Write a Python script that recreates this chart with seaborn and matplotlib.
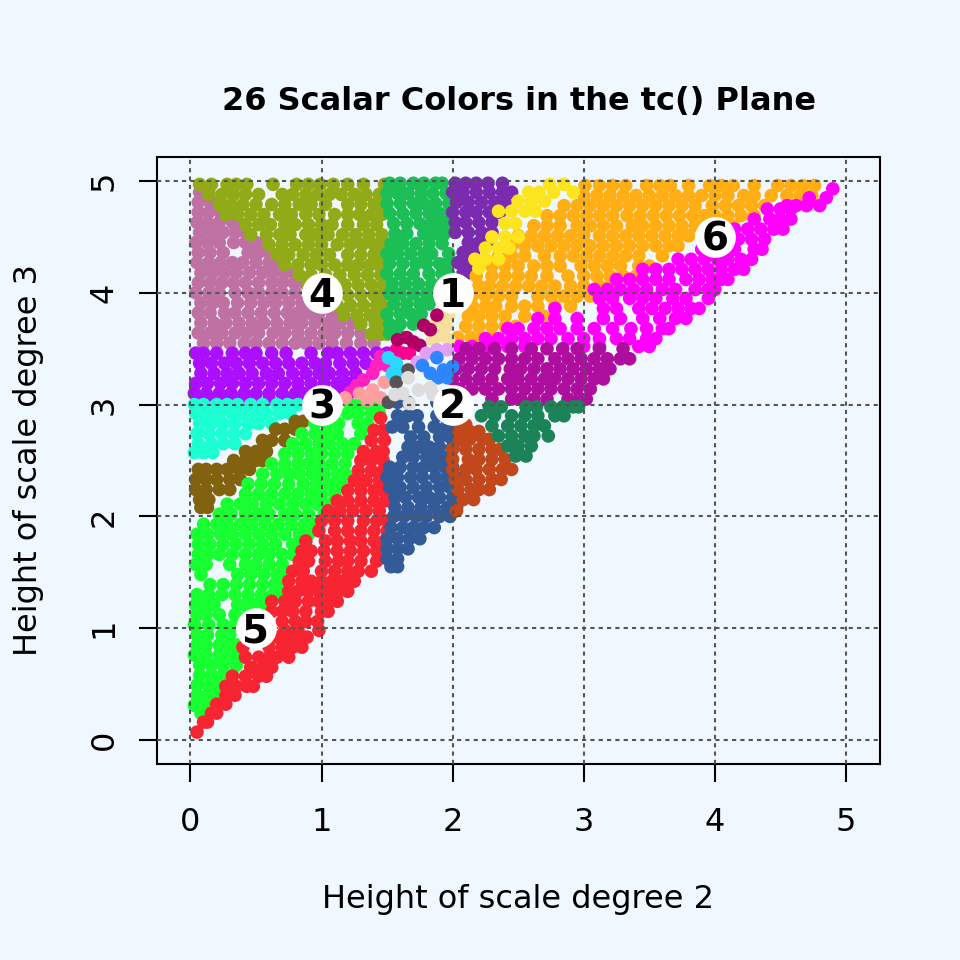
import matplotlib
matplotlib.use("Agg")
import matplotlib.pyplot as plt
import pandas as pd
import seaborn as sns

# each row is (y, [x values at that height])
mauve = [(4.9,[.07,.14]),(4.81,[.06,.15,.22]),(4.72,[.06,.14,.23,.31]),(4.63,[.05,.13,.22,.32,.36]),
 (4.54,[.07,.16,.25,.34,.42]),(4.45,[.04,.13,.22,.33,.42,.5,.56]),(4.36,[.06,.15,.25,.44,.52,.6]),
 (4.27,[.05,.14,.23,.32,.4,.5,.6,.68]),(4.18,[.08,.17,.26,.35,.45,.55,.63,.72,.8]),
 (4.09,[.06,.15,.24,.33,.42,.52,.62,.7,.79,.87]),(4.0,[.04,.14,.22,.34,.44,.52,.62,.7,.8]),
 (3.91,[.08,.17,.25,.36,.46,.56,.65,.75,.85]),(3.82,[.06,.15,.26,.34,.44,.54,.64,.74,.82,.9,.98,1.08,1.15]),
 (3.73,[.08,.18,.27,.37,.47,.56,.66,.76,.85,.95,1.05,1.14,1.24]),
 (3.64,[.06,.15,.24,.34,.43,.52,.63,.72,.82,.92,1.02,1.1,1.2,1.3]),
 (3.55,[.1,.2,.3,.41,.5,.6,.7,.8,.88,.98,1.08,1.19,1.3,1.4])]
olive = [(4.97,[.07,.16,.28,.35,.43,.63,.81,.9,.99,1.09,1.2,1.32,1.48]),
 (4.88,[.14,.24,.33,.42,.52,.7,.78,.88,.97,1.06,1.15,1.25,1.34,1.44]),
 (4.79,[.22,.31,.4,.5,.62,.72,.83,.92,1.03,1.2,1.3,1.4,1.47]),
 (4.7,[.27,.36,.46,.56,.68,.77,.88,.98,1.1,1.2,1.29,1.38,1.46]),
 (4.61,[.42,.52,.61,.72,.8,.9,1.0,1.08,1.2,1.32,1.42]),(4.52,[.46,.58,.68,.76,.88,.96,1.05,1.16,1.26,1.36,1.46]),
 (4.43,[.6,.7,.8,.9,1.0,1.12,1.22,1.31,1.4,1.47]),(4.34,[.66,.75,.86,.96,1.06,1.2,1.3,1.4,1.46]),
 (4.25,[.72,.82,.92,1.0,1.1,1.2,1.28,1.37,1.44]),(4.16,[.83,.92,1.03,1.14,1.25,1.35,1.45]),
 (4.07,[.9,1.1,1.18,1.28,1.38,1.47]),(3.98,[1.1,1.2,1.3,1.4,1.47]),(3.89,[1.12,1.22,1.32,1.42,1.46]),
 (3.8,[1.17,1.27,1.37,1.46]),(3.72,[1.3,1.41,1.48]),(3.63,[1.38,1.46,1.5])]
green = [(4.98,[1.52,1.6,1.7,1.78,1.87,1.92]),(4.89,[1.5,1.58,1.66,1.76,1.85,1.95]),(4.8,[1.5,1.6,1.7,1.78,1.87,1.97]),
 (4.71,[1.52,1.62,1.72,1.82,1.9,1.98]),(4.62,[1.55,1.65,1.75,1.84,1.92,2.0]),(4.53,[1.56,1.65,1.78,1.87,1.94]),
 (4.44,[1.53,1.62,1.72,1.82,1.92]),(4.35,[1.5,1.58,1.68,1.78,1.84,1.97]),(4.26,[1.52,1.62,1.72,1.8,1.9,1.97]),
 (4.17,[1.5,1.6,1.7,1.82,1.92,1.97]),(4.08,[1.54,1.64,1.74,1.84,1.92]),(3.99,[1.52,1.6,1.7,1.8,1.86]),
 (3.9,[1.55,1.65,1.75,1.82]),(3.81,[1.5,1.6,1.68,1.76]),(3.72,[1.52,1.6,1.7]),(3.64,[1.52,1.58])]
purple = [(4.98,[2.02,2.1,2.18,2.27,2.38]),(4.9,[2.0,2.08,2.18,2.28,2.38,2.45]),(4.81,[2.03,2.12,2.22,2.32,2.4]),
 (4.72,[2.0,2.1,2.18,2.28,2.36]),(4.63,[2.02,2.1,2.2,2.3]),(4.54,[2.02,2.12,2.22,2.3]),(4.45,[2.12,2.2,2.28]),
 (4.36,[2.08,2.16]),(4.27,[2.04,2.12,2.16]),(4.18,[2.08,2.12])]
orange = [(4.96,[3.01,3.12,3.22,3.32,3.48,3.58,3.66,3.8,3.96,4.05,4.14,4.3,4.48,4.58,4.67,4.76]),
 (4.87,[3.0,3.1,3.2,3.3,3.4,3.5,3.6,3.7,3.8,3.9,4.0,4.1,4.22,4.3,4.43,4.55,4.65,4.74]),
 (4.78,[2.85,2.95,3.05,3.15,3.25,3.35,3.45,3.55,3.65,3.75,3.85,3.98,4.08,4.18,4.28,4.38,4.58]),
 (4.69,[2.72,2.82,2.92,3.02,3.12,3.22,3.33,3.43,3.53,3.63,3.73,3.83,3.92,4.0,4.1,4.2,4.3]),
 (4.6,[2.62,2.72,2.82,2.95,3.05,3.15,3.25,3.37,3.45,3.55,3.65,3.75,3.85,3.92,4.14]),
 (4.51,[2.5,2.6,2.7,2.8,2.9,3.0,3.12,3.22,3.32,3.42,3.52,3.62,3.72,3.8]),
 (4.42,[2.45,2.55,2.65,2.75,2.85,2.95,3.05,3.15,3.25,3.35,3.45,3.55,3.65,3.72]),
 (4.33,[2.35,2.45,2.55,2.7,2.82,2.92,3.02,3.12,3.22,3.32,3.42,3.6]),
 (4.24,[2.3,2.4,2.5,2.62,2.72,2.82,2.98,3.08,3.18,3.28,3.42,3.5]),
 (4.15,[2.18,2.3,2.4,2.5,2.6,2.72,2.88,3.0,3.1,3.2,3.3,3.4]),
 (4.06,[2.2,2.28,2.38,2.48,2.58,2.68,2.78,2.9,3.0,3.12,3.2]),
 (3.97,[2.15,2.25,2.35,2.45,2.65,2.75,2.85,2.95,3.05]),(3.88,[2.15,2.25,2.33,2.45,2.55,2.65,2.78,2.9]),
 (3.79,[2.12,2.2,2.3,2.4,2.55,2.7]),(3.7,[2.1,2.2,2.3,2.4,2.48]),(3.6,[2.04,2.14,2.22,2.3]),(3.56,[2.0])]
yellow = [(4.97,[2.74,2.85]),(4.9,[2.58,2.66,2.77,2.92]),(4.82,[2.5,2.6,2.7]),(4.73,[2.35,2.45,2.55,2.63]),
 (4.62,[2.4,2.48]),(4.5,[2.3,2.4,2.5]),(4.4,[2.25,2.35,2.43]),(4.3,[2.17,2.25,2.35]),(4.22,[2.2])]
magenta = [(4.93,[4.9]),(4.85,[4.72,4.85]),(4.78,[4.55,4.62,4.7,4.8]),(4.75,[4.4,4.5,4.58]),(4.66,[4.3,4.42,4.5,4.58]),
 (4.57,[4.15,4.25,4.35,4.45,4.52]),(4.48,[4.08,4.18,4.28,4.38]),(4.39,[3.9,4.08,4.15,4.3,4.36]),
 (4.3,[3.72,3.82,3.92,4.02,4.1,4.2,4.28]),(4.21,[3.45,3.55,3.65,3.75,3.85,3.95,4.05,4.15,4.22]),
 (4.12,[3.25,3.35,3.45,3.55,3.65,3.78,3.88,3.98,4.05,4.1]),(4.03,[3.08,3.18,3.28,3.38,3.48,3.6,3.7,3.85,3.95,4.0]),
 (3.95,[3.12,3.22,3.35,3.45,3.55,3.68,3.78,3.95]),(3.86,[2.78,3.15,3.25,3.42,3.52,3.62,3.72,3.82,3.88]),
 (3.77,[2.65,2.78,2.95,3.15,3.28,3.45,3.58,3.7,3.78]),(3.68,[2.42,2.5,2.62,2.72,2.82,2.95,3.08,3.22,3.36,3.48,3.6,3.65]),
 (3.59,[2.25,2.35,2.45,2.55,2.65,2.75,2.88,3.0,3.12,3.25,3.35,3.48,3.55]),(3.52,[2.05,2.15,2.28,2.42,2.55,3.0,3.12,3.42,3.5])]
dark_magenta = [(3.5,[2.1,2.2,2.32,2.45,2.6,2.72,2.84,2.95,3.12,3.3]),
 (3.41,[2.05,2.15,2.25,2.35,2.45,2.55,2.65,2.78,2.88,2.98,3.08,3.18,3.28,3.35]),
 (3.32,[2.03,2.12,2.22,2.32,2.44,2.52,2.62,2.72,2.82,2.92,3.02,3.12,3.2]),
 (3.23,[2.0,2.1,2.2,2.3,2.42,2.5,2.6,2.7,2.78,2.88,2.98,3.08,3.15]),
 (3.14,[2.05,2.15,2.25,2.35,2.45,2.55,2.65,2.75,2.85,2.95,3.05]),(3.05,[2.3,2.45,2.52,2.62,2.72,2.88,2.97,3.02])]
violet = [(3.46,[.04,.1,.2,.32,.42,.5,.62,.73,.92,1.05,1.12,1.22,1.32,1.42,1.5]),
 (3.37,[.07,.16,.26,.35,.45,.55,.65,.75,.85,.95,1.03,1.14,1.24,1.34]),
 (3.28,[.08,.18,.28,.37,.47,.58,.67,.78,.88,.98,1.06,1.16,1.26]),
 (3.19,[.04,.13,.23,.32,.42,.52,.62,.72,.82,.92,1.02,1.12,1.2]),
 (3.1,[.03,.12,.22,.31,.41,.5,.6,.7,.8,.86,1.14]),(3.05,[.1,.2,.28,.38,.48,.6,.72])]
mint = [(3.0,[.03,.1,.2,.28,.36,.46,.55,.66,.74,.82,.9]),(2.92,[.04,.13,.22,.32,.4,.5,.58,.68,.76]),
 (2.83,[.07,.16,.25,.34,.44,.52,.62]),(2.74,[.05,.14,.24,.33,.42]),(2.65,[.06,.16,.25,.34]),(2.57,[.03,.1,.17])]
brown = [(2.85,[.8,.86]),(2.78,[.65,.72,.8]),(2.68,[.55,.62,.72]),(2.58,[.42,.5,.58]),(2.5,[.33,.42,.5,.55]),
 (2.42,[.06,.12,.2,.28,.37,.45]),(2.33,[.04,.12,.2,.3,.38]),(2.24,[.04,.12,.22,.3]),(2.15,[.07,.14]),(2.08,[.08,.13])]
lime = [(3.0,[1.22,1.28,1.36,1.45]),(2.92,[1.1,1.2,1.28,1.38,1.44]),(2.83,[.95,1.05,1.13,1.28,1.35]),
 (2.74,[.85,.95,1.03,1.12,1.3]),(2.65,[.78,.88,.98,1.06,1.16,1.25]),(2.56,[.72,.82,.92,1.0,1.1,1.2]),
 (2.47,[.62,.72,.82,.9,.98,1.08,1.18]),(2.38,[.55,.66,.75,.83,.93,1.02,1.12,1.18]),
 (2.29,[.44,.54,.64,.75,.86,.96,1.06,1.15]),(2.2,[.42,.52,.62,.72,.82,.92,1.0,1.1]),
 (2.11,[.28,.38,.47,.58,.68,.78,.88,.97,1.05]),(2.02,[.22,.31,.42,.52,.6,.72,.8,.9,1.02]),
 (1.93,[.1,.2,.28,.38,.47,.57,.67,.77,.87,.95]),(1.84,[.05,.13,.23,.32,.42,.52,.62,.72,.83,.9]),
 (1.75,[.06,.15,.25,.35,.45,.55,.65,.78,.85]),(1.66,[.06,.13,.22,.32,.42,.52,.6,.7,.78]),
 (1.57,[.04,.12,.3,.42,.5,.6,.7]),(1.48,[.08,.36,.46,.56,.66,.72]),(1.39,[.15,.25,.35,.45,.55,.64,.7]),
 (1.3,[.05,.14,.24,.34,.44,.54,.63,.66]),(1.21,[.04,.1,.18,.36,.42,.5,.58]),(1.12,[.05,.12,.22,.34,.44,.52]),
 (1.03,[.03,.14,.25,.34,.4]),(.94,[.05,.13,.24,.3]),(.85,[.05,.12,.22,.28,.36]),(.76,[.03,.12,.22,.3,.36]),
 (.67,[.07,.16,.25,.35]),(.58,[.07,.16,.25,.32]),(.49,[.05,.14,.22]),(.4,[.05,.13,.2]),(.31,[.03,.1,.15]),(.24,[.08,.1])]
red = [(2.88,[1.45]),(2.77,[1.4,1.47]),(2.68,[1.38,1.48]),(2.58,[1.32,1.42,1.47]),(2.5,[1.3,1.38,1.47]),
 (2.41,[1.28,1.38,1.47]),(2.32,[1.25,1.34,1.44,1.49]),(2.23,[1.2,1.3,1.4,1.47]),(2.14,[1.12,1.2,1.3,1.4,1.49]),
 (2.05,[1.05,1.14,1.24,1.34,1.44]),(1.96,[1.0,1.1,1.2,1.32,1.42,1.5]),(1.87,[.98,1.1,1.2,1.3,1.4,1.5]),
 (1.78,[.88,1.03,1.12,1.22,1.3,1.4,1.48]),(1.69,[.85,.92,1.02,1.12,1.22,1.32,1.42,1.48]),
 (1.6,[.83,.9,1.03,1.13,1.2,1.3,1.42]),(1.51,[.78,.86,1.0,1.1,1.2,1.28,1.38]),(1.42,[.75,.85,.92,1.0,1.08,1.16,1.25]),
 (1.33,[.75,.82,.9,.98,1.05,1.13,1.2]),(1.24,[.62,.72,.8,.9,.98,1.06,1.12]),(1.15,[.62,.7,.78,.88,1.0,1.05]),
 (1.06,[.7,.8,.88,.97]),(.98,[.72,.82,.98]),(.92,[.66,.72,.8,.89]),(.83,[.4,.6,.7,.78,.85]),
 (.74,[.42,.52,.6,.66,.75]),(.65,[.46,.55,.62]),(.57,[.32,.42,.52,.58]),(.48,[.27,.35,.43,.48]),(.4,[.27,.34]),
 (.32,[.2,.27]),(.24,[.16,.2]),(.16,[.1,.13]),(.07,[.05])]
blue = [(3.1,[1.6]),(3.02,[1.58,1.66,1.88,1.95,2.0]),(2.9,[1.58,1.66,1.73,1.88,1.97]),(2.8,[1.54,1.62,1.74,1.86,1.95,2.03]),
 (2.71,[1.68,1.78,1.9,1.98]),(2.62,[1.66,1.74,1.82,1.9,2.0]),(2.53,[1.62,1.7,1.8,1.88,1.96]),
 (2.44,[1.52,1.6,1.7,1.78,1.86,1.94,2.0]),(2.35,[1.5,1.58,1.68,1.77,1.87,1.96,2.02]),(2.26,[1.52,1.6,1.7,1.8,1.9,1.98]),
 (2.17,[1.56,1.64,1.74,1.82,1.9,2.0]),(2.08,[1.56,1.66,1.76,1.86,1.96,2.03]),(2.0,[1.55,1.63,1.72,1.8,1.9,1.98]),
 (1.9,[1.53,1.62,1.7,1.78,1.86]),(1.8,[1.5,1.58,1.67,1.75]),(1.71,[1.5,1.58,1.66]),(1.62,[1.5,1.58]),(1.55,[1.53,1.58])]
rust = [(2.82,[2.1]),(2.76,[2.05,2.13,2.2]),(2.69,[2.05,2.13,2.23,2.28]),(2.6,[2.0,2.1,2.2,2.3,2.36]),
 (2.51,[2.0,2.12,2.2,2.3,2.4]),(2.42,[2.0,2.1,2.18,2.28,2.38,2.45]),(2.33,[2.02,2.1,2.2,2.3,2.37]),
 (2.24,[2.04,2.14,2.2,2.28]),(2.15,[2.08,2.16]),(2.05,[2.03])]
teal = [(2.98,[2.28,2.37,2.56,2.64,2.75,2.84,2.92,2.96]),(2.9,[2.22,2.32,2.45,2.55,2.65,2.78,2.85]),
 (2.81,[2.3,2.42,2.52,2.62,2.7]),(2.72,[2.35,2.45,2.55,2.62,2.73]),(2.63,[2.42,2.5,2.6]),(2.54,[2.48,2.56])]
beige = [(3.85,[1.93]),(3.8,[1.97]),(3.75,[1.88]),(3.7,[1.95]),(3.62,[1.9]),(3.58,[1.85,1.97])]
hot_pink = [(3.11,[1.22]),(3.17,[1.27]),(3.22,[1.32]),(3.28,[1.39]),(3.35,[1.5,1.42]),(3.43,[1.45])]
salmon = [(3.06,[1.18,1.45]),(3.1,[1.29]),(3.13,[1.39]),(3.2,[1.48]),(3.04,[1.35])]
pink_red = [(3.49,[1.57]),(3.46,[1.67,1.62])]
crimson = [(3.58,[1.58]),(3.6,[1.65]),(3.53,[1.75]),(3.56,[1.7]),(3.67,[1.83]),(3.71,[1.78]),(3.8,[1.88])]
lilac = [(3.38,[1.73]),(3.46,[1.8]),(3.49,[1.88,1.96])]
bright_blue = [(3.35,[1.77]),(3.42,[1.88]),(3.28,[1.83]),(3.31,[1.93]),(3.24,[1.96,1.89]),(3.34,[2.0])]
sky = [(3.42,[1.51]),(3.37,[1.57]),(3.29,[1.61]),(3.28,[1.54])]
dark_gray = [(3.2,[1.57]),(3.31,[1.66]),(3.02,[1.51])]
light_gray = [(3.24,[1.66]),(3.09,[1.56,1.85]),(3.1,[1.62]),(3.13,[1.74]),(3.15,[1.83]),(3.01,[1.67])]

# draw order, later groups sit on top
groups = [
    ("mauve", mauve, "#BF71A3"), ("olive", olive, "#91AB18"), ("green", green, "#1BBF55"),
    ("purple", purple, "#7A2BB0"), ("orange", orange, "#FFAE14"), ("yellow", yellow, "#FCE51E"),
    ("magenta", magenta, "#FF00FF"), ("dark_magenta", dark_magenta, "#AE0E9E"), ("violet", violet, "#AC0FFF"),
    ("mint", mint, "#1CFFD2"), ("brown", brown, "#82620E"), ("lime", lime, "#17FF30"),
    ("red", red, "#F72432"), ("blue", blue, "#325B97"), ("rust", rust, "#C2481B"), ("teal", teal, "#1C8257"),
    ("beige", beige, "#F7DE9B"), ("hot_pink", hot_pink, "#FF22C0"), ("salmon", salmon, "#FD9E9E"),
    ("pink_red", pink_red, "#FF0090"), ("crimson", crimson, "#B00065"), ("lilac", lilac, "#E0A0F5"),
    ("bright_blue", bright_blue, "#2E86FF"), ("sky", sky, "#2BD6FF"), ("dark_gray", dark_gray, "#575459"),
    ("light_gray", light_gray, "#DEDCDD"),
]

label_x = [2, 2, 1, 1, 0.5, 4]
label_y = [4, 3, 3, 4, 1, 4.5]
label_text = ["1", "2", "3", "4", "5", "6"]
ticks = [0, 1, 2, 3, 4, 5]

records = []
for name, rows, colour in groups:
    for y, xs in rows:
        for x in xs:
            records.append({"x": x, "y": y, "color": name})
df = pd.DataFrame(records)
palette = {name: colour for name, rows, colour in groups}

bg = "#F0F8FF"
sns.set_style("ticks")
fig = plt.figure(figsize=(4.8, 4.8), dpi=200, facecolor=bg)
ax = fig.add_axes([157 / 960, 196 / 960, 723 / 960, 607 / 960], facecolor=bg)

sns.scatterplot(data=df, x="x", y="y", hue="color", palette=palette, s=24, linewidth=0,
                legend=False, ax=ax, clip_on=False)

ax.set_xlim(-0.255, 5.26)
ax.set_ylim(-0.215, 5.215)
ax.set_xticks(ticks)
ax.set_yticks(ticks)
ax.set_axisbelow(False)
ax.grid(True, color="#555555", linestyle=(0, (2, 2)), linewidth=0.75)
for side in ax.spines.values():
    side.set_visible(True)
    side.set_linewidth(0.75)
    side.set_color("black")
ax.tick_params(length=6.5, width=0.75, color="black", labelsize=11.5, labelcolor="black")
ax.tick_params(axis="x", pad=9)
ax.tick_params(axis="y", pad=7)
plt.setp(ax.get_yticklabels(), rotation=90, va="center")

ax.scatter(label_x, label_y, s=215, color="white", linewidth=0, zorder=4)
for x, y, t in zip(label_x, label_y, label_text):
    ax.text(x, y + 0.01, t, ha="center", va="center_baseline", fontsize=14, fontweight="bold", color="black", zorder=5)

ax.set_title("26 Scalar Colors in the tc() Plane", fontsize=11.5, fontweight="bold", color="black", pad=17)
ax.set_xlabel("Height of scale degree 2", fontsize=11.5, color="black", labelpad=16.7)
ax.set_ylabel("Height of scale degree 3", fontsize=11.5, color="black", labelpad=16)

fig.savefig("out.png", dpi=200, facecolor=bg)
